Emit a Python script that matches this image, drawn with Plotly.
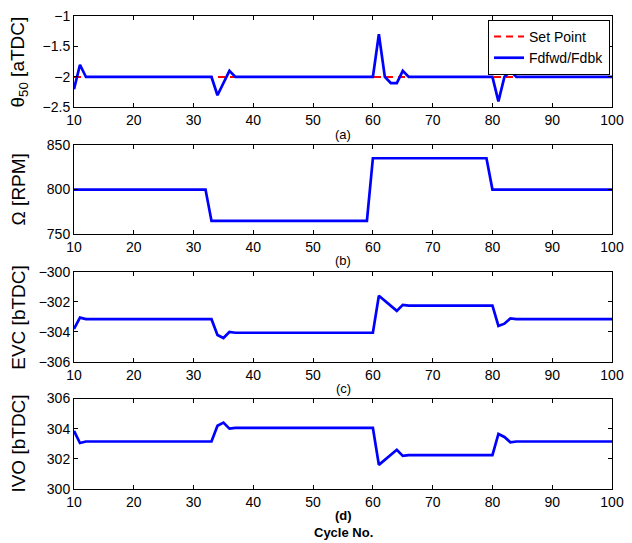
import plotly.graph_objects as go

# Cycle numbers on the shared horizontal axis
cycles = list(range(10, 101))

# (a) combustion phasing, set point and closed-loop response [aTDC]
theta50_setpoint = [-2.0] * 91
theta50_fdfwd = [
    -2.2, -1.8,
    -2.0, -2.0, -2.0, -2.0, -2.0, -2.0, -2.0, -2.0, -2.0, -2.0, -2.0,
    -2.0, -2.0, -2.0, -2.0, -2.0, -2.0, -2.0, -2.0, -2.0, -2.0, -2.0,
    -2.3, -2.1, -1.9,
    -2.0, -2.0, -2.0, -2.0, -2.0, -2.0, -2.0, -2.0, -2.0, -2.0, -2.0, -2.0,
    -2.0, -2.0, -2.0, -2.0, -2.0, -2.0, -2.0, -2.0, -2.0, -2.0, -2.0, -2.0,
    -1.3, -2.0, -2.1, -2.1, -1.9,
    -2.0, -2.0, -2.0, -2.0, -2.0, -2.0, -2.0, -2.0, -2.0, -2.0, -2.0,
    -2.0, -2.0, -2.0, -2.0,
    -2.4, -2.0, -1.9,
    -2.0, -2.0, -2.0, -2.0, -2.0, -2.0, -2.0, -2.0, -2.0, -2.0, -2.0,
    -2.0, -2.0, -2.0, -2.0, -2.0, -2.0,
]

# (b) engine speed [RPM]
speed_rpm = [
    800, 800, 800, 800, 800, 800, 800, 800, 800, 800, 800, 800,
    800, 800, 800, 800, 800, 800, 800, 800, 800, 800, 800,
    765, 765, 765, 765, 765, 765, 765, 765, 765, 765, 765, 765, 765, 765,
    765, 765, 765, 765, 765, 765, 765, 765, 765, 765, 765, 765, 765,
    835, 835, 835, 835, 835, 835, 835, 835, 835, 835,
    835, 835, 835, 835, 835, 835, 835, 835, 835, 835,
    800, 800, 800, 800, 800, 800, 800, 800, 800, 800, 800,
    800, 800, 800, 800, 800, 800, 800, 800, 800, 800,
]

# (c) exhaust valve closing [bTDC]
evc = [
    -303.8, -303.05,
    -303.15, -303.15, -303.15, -303.15, -303.15, -303.15, -303.15, -303.15,
    -303.15, -303.15, -303.15, -303.15, -303.15, -303.15, -303.15, -303.15,
    -303.15, -303.15, -303.15, -303.15, -303.15, -303.15,
    -304.2, -304.4, -304.0,
    -304.05, -304.05, -304.05, -304.05, -304.05, -304.05, -304.05, -304.05,
    -304.05, -304.05, -304.05, -304.05, -304.05, -304.05, -304.05, -304.05,
    -304.05, -304.05, -304.05, -304.05, -304.05, -304.05, -304.05, -304.05,
    -301.6, -301.95, -302.3, -302.6, -302.2,
    -302.25, -302.25, -302.25, -302.25, -302.25, -302.25, -302.25, -302.25,
    -302.25, -302.25, -302.25, -302.25, -302.25, -302.25, -302.25,
    -303.6, -303.45, -303.1,
    -303.15, -303.15, -303.15, -303.15, -303.15, -303.15, -303.15, -303.15,
    -303.15, -303.15, -303.15, -303.15, -303.15, -303.15, -303.15, -303.15,
    -303.15,
]

# (d) intake valve opening [bTDC]
ivo = [
    303.85, 303.05,
    303.15, 303.15, 303.15, 303.15, 303.15, 303.15, 303.15, 303.15,
    303.15, 303.15, 303.15, 303.15, 303.15, 303.15, 303.15, 303.15,
    303.15, 303.15, 303.15, 303.15, 303.15, 303.15,
    304.2, 304.4, 304.0,
    304.05, 304.05, 304.05, 304.05, 304.05, 304.05, 304.05, 304.05,
    304.05, 304.05, 304.05, 304.05, 304.05, 304.05, 304.05, 304.05,
    304.05, 304.05, 304.05, 304.05, 304.05, 304.05, 304.05, 304.05,
    301.6, 301.95, 302.3, 302.6, 302.2,
    302.25, 302.25, 302.25, 302.25, 302.25, 302.25, 302.25, 302.25,
    302.25, 302.25, 302.25, 302.25, 302.25, 302.25, 302.25,
    303.65, 303.45, 303.1,
    303.15, 303.15, 303.15, 303.15, 303.15, 303.15, 303.15, 303.15,
    303.15, 303.15, 303.15, 303.15, 303.15, 303.15, 303.15, 303.15,
    303.15,
]

# Tick values / labels per panel
x_ticks = [10, 20, 30, 40, 50, 60, 70, 80, 90, 100]
ticks_a = [-2.5, -2, -1.5, -1]
labels_a = ["\u22122.5", "\u22122", "\u22121.5", "\u22121"]
ticks_b = [750, 800, 850]
labels_b = ["750", "800", "850"]
ticks_c = [-306, -304, -302, -300]
labels_c = ["\u2212306", "\u2212304", "\u2212302", "\u2212300"]
ticks_d = [300, 302, 304, 306]
labels_d = ["300", "302", "304", "306"]

y_titles = ["\u03b8<sub>50</sub> [aTDC]", "\u03a9 [RPM]", "EVC [bTDC]", "IVO [bTDC]"]
panel_tags = ["(a)", "(b)", "(c)", "<b>(d)</b>"]

FONT = "Liberation Sans, Arial, Helvetica, sans-serif"
BLUE = "#0000ff"
RED = "#ff0000"

W, H = 632, 543
ML, MR, MT, MB = 74, 12, 8, 54
plot_h = H - MT - MB

# Panel extents in pixels from the top of the page
panel_px = [(8, 101), (139, 230), (268, 360), (397, 489)]


def frac(py):
    return (H - MB - py) / plot_h


domains = [[frac(b), frac(t)] for t, b in panel_px]

fig = go.Figure()

fig.add_trace(go.Scatter(
    x=cycles, y=theta50_setpoint, mode="lines", name="Set Point",
    line=dict(color=RED, width=2, dash="7px,5px"), xaxis="x", yaxis="y"))
fig.add_trace(go.Scatter(
    x=cycles, y=theta50_fdfwd, mode="lines", name="Fdfwd/Fdbk",
    line=dict(color=BLUE, width=2.7), xaxis="x", yaxis="y"))
fig.add_trace(go.Scatter(
    x=cycles, y=speed_rpm, mode="lines", showlegend=False,
    line=dict(color=BLUE, width=2.7), xaxis="x2", yaxis="y2"))
fig.add_trace(go.Scatter(
    x=cycles, y=evc, mode="lines", showlegend=False,
    line=dict(color=BLUE, width=2.7), xaxis="x3", yaxis="y3"))
fig.add_trace(go.Scatter(
    x=cycles, y=ivo, mode="lines", showlegend=False,
    line=dict(color=BLUE, width=2.7), xaxis="x4", yaxis="y4"))

axis_common = dict(
    showline=True, linecolor="black", linewidth=1, mirror="ticks",
    ticks="inside", ticklen=4, tickwidth=1, tickcolor="black",
    showgrid=False, zeroline=False,
    tickfont=dict(family=FONT, size=14, color="black"),
)

yranges = [[-2.5, -1], [750, 850], [-306, -300], [300, 306]]
yticks = [(ticks_a, labels_a), (ticks_b, labels_b), (ticks_c, labels_c), (ticks_d, labels_d)]

layout = dict(
    width=W, height=H,
    margin=dict(l=ML, r=MR, t=MT, b=MB),
    paper_bgcolor="white", plot_bgcolor="white",
    font=dict(family=FONT, color="black"),
    showlegend=True,
    legend=dict(
        x=(618 - ML) / (W - ML - MR), y=frac(12),
        xanchor="right", yanchor="top",
        bgcolor="white", bordercolor="black", borderwidth=1,
        font=dict(family=FONT, size=14, color="black"),
        tracegroupgap=0,
    ),
)

annotations = []
for i in range(4):
    sfx = "" if i == 0 else str(i + 1)
    layout["xaxis" + sfx] = dict(
        axis_common, domain=[0, 1], range=[10, 100],
        tickvals=x_ticks, ticktext=[str(v) for v in x_ticks],
        anchor="y" + sfx,
    )
    tv, tt = yticks[i]
    layout["yaxis" + sfx] = dict(
        axis_common, domain=domains[i], range=yranges[i],
        tickvals=tv, ticktext=tt, anchor="x" + sfx,
    )
    t, b = panel_px[i]
    annotations.append(dict(
        text=y_titles[i], textangle=-90, xref="paper", yref="paper",
        x=(18 - ML) / (W - ML - MR), y=frac((t + b) / 2),
        xanchor="center", yanchor="middle", showarrow=False,
        font=dict(family=FONT, size=19, color="black"),
    ))
    annotations.append(dict(
        text=panel_tags[i], xref="paper", yref="paper",
        x=0.5, y=frac(b + 27),
        xanchor="center", yanchor="middle", showarrow=False,
        font=dict(family=FONT, size=13, color="black"),
    ))

annotations.append(dict(
    text="<b>Cycle No.</b>", xref="paper", yref="paper",
    x=0.5, y=frac(533), xanchor="center", yanchor="middle", showarrow=False,
    font=dict(family=FONT, size=13, color="black"),
))

layout["annotations"] = annotations
fig.update_layout(**layout)

fig.write_html("out.html")
